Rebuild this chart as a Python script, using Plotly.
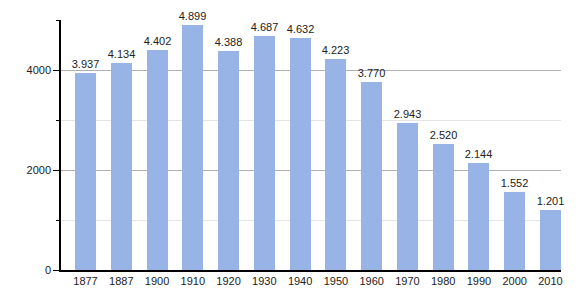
import plotly.graph_objects as go

years = ["1877", "1887", "1900", "1910", "1920", "1930", "1940", "1950",
         "1960", "1970", "1980", "1990", "2000", "2010"]
population = [3937, 4134, 4402, 4899, 4388, 4687, 4632, 4223,
              3770, 2943, 2520, 2144, 1552, 1201]

labels = [f"{v:,}".replace(",", ".") for v in population]
xpos = list(range(len(years)))

fig = go.Figure()
fig.add_trace(go.Bar(
    x=xpos, y=population, width=0.587,
    marker=dict(color="#98b3e5", line=dict(width=0)),
    text=labels, textposition="outside", cliponaxis=False, constraintext="none",
    textfont=dict(family="Liberation Sans, Arial, sans-serif", size=11, color="#222"),
))

fig.update_layout(
    width=580, height=300,
    margin=dict(l=61, r=19, t=20, b=30),
    plot_bgcolor="white", paper_bgcolor="white",
    showlegend=False, bargap=0, uniformtext=dict(mode=False),
    font=dict(family="Liberation Sans, Arial, sans-serif", size=11, color="#222"),
)
fig.update_xaxes(
    range=[-0.685, 13.294], tickmode="array", tickvals=xpos, ticktext=years,
    showgrid=False, showline=True, linecolor="black", linewidth=1.5,
    ticks="", zeroline=False, fixedrange=True,
)
fig.update_yaxes(
    range=[0, 5000], tickmode="array", tickvals=[0, 2000, 4000],
    showgrid=True, gridcolor="#b0b0b0", gridwidth=1,
    showline=True, linecolor="black", linewidth=1.5,
    ticks="outside", ticklen=6, tickcolor="black", tickformat="d",
    minor=dict(tickvals=[1000, 3000, 5000], ticks="outside", ticklen=3,
               tickcolor="black", showgrid=True, gridcolor="#e4e4e4"),
    zeroline=False, fixedrange=True,
)

fig.write_html("out.html")
